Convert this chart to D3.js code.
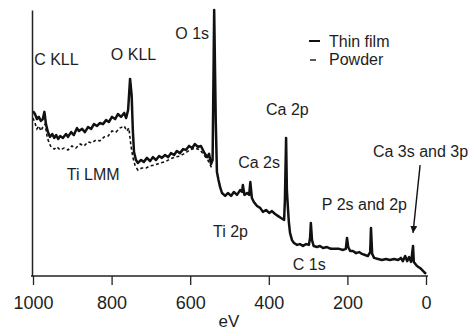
<!DOCTYPE html>
<html>
<head>
<meta charset="utf-8">
<script src="https://cdn.jsdelivr.net/npm/d3@7"></script>
<style>
  body { margin: 0; background: #fff; }
  svg text { font-family: "Liberation Sans", Arial, sans-serif; fill: #1e1e1e; }
</style>
</head>
<body>
<svg id="xps" width="472" height="331"></svg>
<script>
// binding energy (eV) and intensity (arb. units, 0-100)
var filmEV = [1000,995,990,985,980,975,971,967,962,957,951,946,941,936,931,924,916,911,903,896,888,883,875,868,860,852,845,837,830,822,814,807,799,791,784,776,768,763,758,753,749,746,743,738,733,725,718,710,702,695,687,679,672,664,656,649,641,634,626,618,611,603,595,588,580,573,565,557,552,547,543,539,535,532,528,524,519,511,504,496,489,481,473,468,466,462,455,450,447,443,438,430,422,415,407,399,392,384,377,369,361,359,356,354,351,349,346,341,336,328,321,313,305,298,295,293,290,286,277,270,262,252,242,232,221,211,204,201,198,193,186,178,170,163,155,148,142,140,137,132,122,112,102,92,81,71,64,59,53,48,43,38,36,33,31,25,20,15,10,5,0];
var filmI = [62.0,60.9,59.0,59.8,58.3,59.0,61.7,57.1,54.1,52.3,53.4,51.9,53.0,51.5,52.6,51.9,53.4,52.3,54.1,53.0,55.6,54.5,55.3,54.1,56.0,55.3,57.1,56.4,57.5,57.1,58.6,57.9,59.8,59.0,60.9,59.8,61.3,59.4,62.4,74.1,68.0,54.9,46.6,43.6,42.5,43.6,42.9,44.4,43.2,44.7,43.6,45.1,44.4,45.5,44.7,46.2,45.5,47.0,46.2,47.7,47.4,48.9,48.1,49.6,48.5,48.9,46.6,44.7,45.9,42.1,43.6,100,58.6,39.1,36.1,33.5,31.2,30.1,31.2,30.1,31.6,30.5,32.3,31.6,34.2,30.5,31.2,30.5,35.3,29.3,27.8,26.3,25.6,24.1,24.8,23.7,24.4,23.3,22.6,21.8,21.1,28.6,51.9,32.3,24.8,20.3,16.2,13.5,12.4,11.7,12.0,11.3,12.0,11.7,14.3,19.9,13.5,11.3,10.9,11.3,10.5,10.9,10.2,10.2,10.2,9.8,10.2,14.3,10.9,9.4,9.4,8.6,9.0,8.3,7.9,7.5,9.0,18.0,8.3,6.8,6.4,6.0,6.4,6.0,6.4,6.0,6.8,5.6,7.5,5.6,7.1,5.3,7.5,11.3,5.3,4.1,3.4,3.0,2.3,1.5,0.8];

var powderEV = [1000,995,990,985,980,975,969,964,959,954,946,939,931,921,911,901,891,880,870,860,850,840,830,819,809,799,789,779,768,761,756,751,746,740,733,723,712,702,690,677,664,651,639,626,613,601,588,575,565,555,545];
var powderI = [59.4,57.5,55.3,56.4,54.5,56.0,57.1,52.3,50.0,48.5,47.7,48.5,47.4,48.1,47.4,48.9,48.1,49.6,48.9,50.4,50.0,51.1,50.8,52.3,52.6,54.5,54.1,55.6,56.4,54.5,55.6,49.2,44.7,41.4,39.8,40.6,40.6,41.4,41.7,42.5,42.9,44.0,44.7,45.1,46.2,47.4,48.1,47.4,45.5,43.6,40.6];

var xTicks = [1000, 800, 600, 400, 200, 0];
var seriesNames = ["Thin film", "Powder"];

// peak labels: text, anchor position in data units
var peakLabels = [
  {t: "C KLL", ev: 997, i: 79.3},
  {t: "O KLL", ev: 802, i: 81.2},
  {t: "O 1s", ev: 638, i: 89.1},
  {t: "Ti LMM", ev: 914, i: 36.1},
  {t: "Ca 2p", ev: 407, i: 60.5},
  {t: "Ca 2s", ev: 478, i: 40.6},
  {t: "Ti 2p", ev: 542, i: 14.7},
  {t: "P 2s and 2p", ev: 265, i: 24.8},
  {t: "C 1s", ev: 339, i: 2.3},
  {t: "Ca 3s and 3p", ev: 135, i: 44.7}
];

var svg = d3.select("#xps");
var x = d3.scaleLinear().domain([1000, 0]).range([33, 426]);
var y = d3.scaleLinear().domain([0, 100]).range([276, 10]);

var film = filmEV.map(function (e, i) { return [e, filmI[i]]; });
var powder = powderEV.map(function (e, i) { return [e, powderI[i]]; });

var line = d3.line()
  .x(function (d) { return x(d[0]); })
  .y(function (d) { return y(d[1]); });

svg.append("path")
  .datum(powder)
  .attr("fill", "none")
  .attr("stroke", "#111")
  .attr("stroke-width", 1.6)
  .attr("stroke-dasharray", "3,2.5")
  .attr("d", line);

svg.append("path")
  .datum(film)
  .attr("fill", "none")
  .attr("stroke", "#111")
  .attr("stroke-width", 2.5)
  .attr("stroke-linejoin", "round")
  .attr("d", line);

// axes
var xAxisG = svg.append("g").attr("transform", "translate(0,276)");
xAxisG.call(d3.axisBottom(x).tickValues(xTicks).tickFormat(d3.format("d"))
  .tickSize(9).tickSizeOuter(0).tickPadding(11));
xAxisG.select(".domain").attr("stroke", "#222").attr("stroke-width", 1.5)
  .attr("d", "M31,0H428");
xAxisG.selectAll(".tick line").attr("stroke", "#222").attr("stroke-width", 1.3);
xAxisG.selectAll(".tick text").style("font-size", "18px").attr("fill", "#1e1e1e");

var yAxisG = svg.append("g").attr("transform", "translate(32,0)");
yAxisG.call(d3.axisLeft(y).tickValues([]).tickSizeOuter(0));
yAxisG.select(".domain").attr("stroke", "#222").attr("stroke-width", 1.5);

svg.append("text")
  .attr("x", 229).attr("y", 327)
  .attr("text-anchor", "middle")
  .style("font-size", "17px")
  .text("eV");

// peak labels
svg.selectAll("text.peak")
  .data(peakLabels)
  .enter().append("text")
  .attr("class", "peak")
  .attr("x", function (d) { return x(d.ev); })
  .attr("y", function (d) { return y(d.i); })
  .style("font-size", "16px")
  .text(function (d) { return d.t; });

// arrow to Ca 3s and 3p
svg.append("defs").append("marker")
  .attr("id", "head")
  .attr("viewBox", "0 0 10 10")
  .attr("refX", 10).attr("refY", 5)
  .attr("markerWidth", 7).attr("markerHeight", 7)
  .attr("markerUnits", "userSpaceOnUse")
  .attr("orient", "auto")
  .append("path").attr("d", "M0,0L10,5L0,10Z").attr("fill", "#111");

svg.append("line")
  .attr("x1", x(15)).attr("y1", y(41.7))
  .attr("x2", x(33)).attr("y2", y(16.2))
  .attr("stroke", "#111").attr("stroke-width", 1.4)
  .attr("marker-end", "url(#head)");

// legend
var legend = svg.append("g").attr("transform", "translate(309,0)");
legend.append("line").attr("x1", 0).attr("x2", 11).attr("y1", 41).attr("y2", 41)
  .attr("stroke", "#111").attr("stroke-width", 2);
legend.append("line").attr("x1", 1).attr("x2", 7).attr("y1", 60).attr("y2", 60)
  .attr("stroke", "#111").attr("stroke-width", 1.4);
legend.selectAll("text.leg").data(seriesNames).enter().append("text")
  .attr("class", "leg")
  .attr("x", 20).attr("y", function (d, i) { return 47 + i * 18; })
  .style("font-size", "16px")
  .text(function (d) { return d; });
</script>
</body>
</html>
